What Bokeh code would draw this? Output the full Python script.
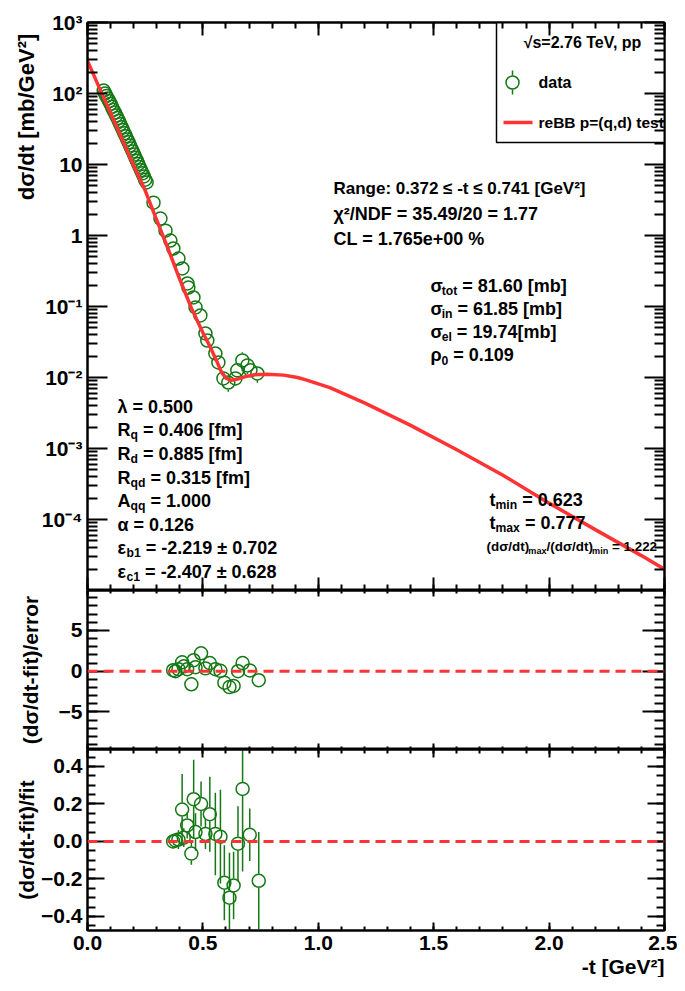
import numpy as np
from bokeh.plotting import figure
from bokeh.layouts import column
from bokeh.models import Range1d, FixedTicker, LinearAxis, LogAxis, Span, Title
from bokeh.core.properties import value
from bokeh.embed import file_html
from bokeh.resources import INLINE

# ---------------- data ----------------
data_t = [0.070, 0.076, 0.082, 0.088, 0.094, 0.100, 0.106, 0.112, 0.118, 0.124,
          0.130, 0.136, 0.142, 0.148, 0.154, 0.160, 0.166, 0.172, 0.178, 0.184,
          0.190, 0.196, 0.202, 0.208, 0.214, 0.220, 0.226, 0.232, 0.238, 0.244,
          0.250, 0.256, 0.286, 0.316, 0.338, 0.359, 0.372, 0.394, 0.411, 0.433,
          0.437, 0.459, 0.468, 0.489, 0.511, 0.519, 0.554, 0.567, 0.589, 0.610,
          0.641, 0.649, 0.671, 0.693, 0.706, 0.736]
data_v = [110, 100, 92, 85, 78, 72, 65, 59, 54, 49,
          45, 41, 37, 33.5, 30.5, 27.5, 25, 22.5, 20.5, 18.5,
          16.8, 15.2, 13.8, 12.4, 11.3, 10.2, 9.2, 8.3, 7.5, 6.8,
          6.1, 5.6, 2.9, 1.73, 1.17, 0.85, 0.656, 0.474, 0.343, 0.211,
          0.185, 0.134, 0.097, 0.0747, 0.0417, 0.0332, 0.0218, 0.0163, 0.0097, 0.0085,
          0.0097, 0.0126, 0.0174, 0.0148, 0.0126, 0.0114]
data_relerr = [0.03] * 32 + [0.05, 0.05, 0.05, 0.06, 0.06, 0.06, 0.07, 0.07,
                             0.08, 0.09, 0.10, 0.12, 0.15, 0.15, 0.20, 0.22, 0.24, 0.26,
                             0.22, 0.22, 0.30, 0.25, 0.18, 0.26]

fit_t = [0.0, 0.05, 0.10, 0.15, 0.20, 0.25, 0.30, 0.35, 0.40, 0.45, 0.50, 0.53,
         0.56, 0.58, 0.60, 0.623, 0.65, 0.68, 0.72, 0.777, 0.85, 0.91, 0.95, 1.05,
         1.20, 1.40, 1.60, 1.80, 2.00, 2.20, 2.40, 2.50]
fit_v = [288, 123, 53, 22.6, 9.7, 4.3, 1.65, 0.64, 0.24, 0.0955, 0.0427, 0.0275,
         0.017, 0.012, 0.0098, 0.0091, 0.0095, 0.0102, 0.0109, 0.01112, 0.0108, 0.0100,
         0.0092, 0.0072, 0.0044, 0.00212, 0.00096, 0.00042, 0.00017, 7.2e-5, 3.1e-5, 2.0e-5]

res_t = [0.371, 0.381, 0.394, 0.410, 0.417, 0.432, 0.450, 0.460, 0.468, 0.492, 0.511,
         0.530, 0.554, 0.576, 0.593, 0.615, 0.633, 0.652, 0.672, 0.703, 0.742]
pull = [0.12, 0.0, 0.25, 1.1, 0.6, 0.25, -1.6, 1.35, 0.5, 2.2, 0.35,
        1.0, 0.25, 0.05, -1.4, -1.95, -1.8, 0.0, 1.0, 0.1, -1.1]
rel_res = [0.0, 0.005, 0.01, 0.17, 0.02, 0.085, -0.065, 0.225, 0.05, 0.20, 0.04,
           0.145, 0.04, 0.025, -0.22, -0.30, -0.235, -0.012, 0.28, 0.035, -0.21]
rel_err = [0.04, 0.04, 0.05, 0.19, 0.05, 0.07, 0.06, 0.21, 0.10, 0.12, 0.08,
           0.20, 0.22, 0.25, 0.20, 0.24, 0.18, 0.20, 0.44, 0.14, 0.26]

x_ticks = [0.0, 0.5, 1.0, 1.5, 2.0, 2.5]
x_labels = ["0.0", "0.5", "1.0", "1.5", "2.0", "2.5"]
y1_ticks = [1e-4, 1e-3, 1e-2, 1e-1, 1.0, 10.0, 100.0, 1000.0]
y1_labels = ["10\u207b\u2074", "10\u207b\u00b3", "10\u207b\u00b2", "10\u207b\u00b9", "1", "10", "10\u00b2", "10\u00b3"]
y2_ticks = [-5.0, 0.0, 5.0]
y2_labels = ["\u22125", "0", "5"]
y3_ticks = [-0.4, -0.2, 0.0, 0.2, 0.4]
y3_labels = ["\u22120.4", "\u22120.2", "0.0", "0.2", "0.4"]

# ---------------- style ----------------
FONT = "Liberation Sans"
GREEN = "#147814"
RED = "#ff3333"
FRAME_W = 577
LEFT = 87
MS = 13  # marker size

def style_axis(ax, major, minor, labels=True):
    ax.major_tick_in = major
    ax.major_tick_out = 0
    ax.minor_tick_in = minor
    ax.minor_tick_out = 0
    ax.major_tick_line_width = 2
    ax.minor_tick_line_width = 2
    ax.axis_line_width = 2
    ax.axis_line_color = "black"
    ax.major_tick_line_color = "black"
    ax.minor_tick_line_color = "black"
    if labels:
        ax.major_label_text_font = FONT
        ax.major_label_text_font_style = "bold"
        ax.major_label_text_font_size = "21px"
        ax.major_label_text_color = "black"
        ax.major_label_standoff = 5
    else:
        ax.major_label_text_font_size = "1px"
        ax.major_label_text_color = None
        ax.major_label_standoff = 0

def make_fig(yr, ytype, fh, btop, bbot):
    p = figure(frame_width=FRAME_W, frame_height=fh, x_range=Range1d(0, 2.5), y_range=yr,
               y_axis_type=ytype, output_backend="svg", toolbar_location=None,
               min_border_left=LEFT, min_border_right=13, min_border_top=btop,
               min_border_bottom=bbot)
    p.grid.visible = False
    p.outline_line_color = "black"
    p.outline_line_width = 2
    p.background_fill_color = "white"
    p.border_fill_color = "white"
    return p

xt = FixedTicker(ticks=x_ticks, minor_ticks=list(np.round(np.arange(0, 2.51, 0.1), 2)))

def add_frame_axes(p, ytick, xmaj, xmin, ymaj, ymin, log=False, xlabels=False):
    p.xaxis.ticker = xt
    style_axis(p.xaxis[0], xmaj, xmin, labels=xlabels)
    if xlabels:
        p.xaxis.major_label_overrides = dict(zip(x_ticks, x_labels))
    p.yaxis.ticker = ytick
    style_axis(p.yaxis[0], ymaj, ymin, labels=True)
    top = LinearAxis(ticker=xt)
    style_axis(top, xmaj, xmin, labels=False)
    p.add_layout(top, "above")
    right = LogAxis(ticker=ytick) if log else LinearAxis(ticker=ytick)
    style_axis(right, ymaj, ymin, labels=False)
    p.add_layout(right, "right")

def ytitle(p, text, standoff, size="22px"):
    ax = p.yaxis[0]
    ax.axis_label = text
    ax.axis_label_text_font = FONT
    ax.axis_label_text_font_style = "bold"
    ax.axis_label_text_font_size = size
    ax.axis_label_text_color = "black"
    ax.axis_label_standoff = standoff

# ---------------- top panel ----------------
p1 = make_fig(Range1d(1e-5, 1e3), "log", 568, 22, 0)
y1_minor = [m * 10.0 ** e for e in range(-5, 3) for m in range(2, 10)]
add_frame_axes(p1, FixedTicker(ticks=y1_ticks, minor_ticks=y1_minor), 13, 6, 20, 10, log=True)
p1.yaxis[0].major_label_overrides = dict(zip(y1_ticks, y1_labels))
# ROOT puts this title at the top end of the axis: pad its start with no-break spaces
ytitle(p1, "\u00a0" * 62 + "d\u03c3/dt [mb/GeV\u00b2]", 0)

def fx(px):
    return (px - 87) / (FRAME_W / 2.5)
def fy(py):
    return 10 ** (3 - (py - 22) / 71.0)

dt = np.array(data_t); dv = np.array(data_v); de = np.array(data_relerr)
g = 10 ** (7.0 / 71.0)
up = (1 + de) > g
lo = (1 - de) < 1 / g
p1.segment(x0=dt[up], y0=(dv * g)[up], x1=dt[up], y1=(dv * (1 + de))[up], line_color=GREEN, line_width=1.5)
p1.segment(x0=dt[lo], y0=(dv / g)[lo], x1=dt[lo], y1=(dv * (1 - de))[lo], line_color=GREEN, line_width=1.5)
p1.scatter(x=data_t, y=data_v, marker="circle", size=MS, fill_color=None, line_color=GREEN, line_width=1.5)
p1.line(x=fit_t, y=fit_v, line_color=RED, line_width=3.5)

# legend box
p1.quad(left=[fx(496)], right=[2.6], top=[fy(19)], bottom=[fy(142)], fill_color="white",
        line_color="black", line_width=1.5)
TXT = dict(text_font=value(FONT), text_font_style="bold", text_color="black", text_baseline="middle")
p1.text(x=[fx(582)], y=[fy(42)], text=["\u221as=2.76 TeV, pp"], text_align="center", text_font_size="16px", **TXT)
p1.segment(x0=[fx(512)], y0=[fy(70)], x1=[fx(512)], y1=[fy(75)], line_color=GREEN, line_width=1.5)
p1.segment(x0=[fx(512)], y0=[fy(89)], x1=[fx(512)], y1=[fy(94)], line_color=GREEN, line_width=1.5)
p1.scatter(x=[fx(512)], y=[fy(82)], marker="circle", size=MS, fill_color=None, line_color=GREEN, line_width=1.5)
p1.text(x=[fx(538)], y=[fy(82)], text=["data"], text_align="left", text_font_size="16px", **TXT)
p1.segment(x0=[fx(503)], y0=[fy(122)], x1=[fx(532)], y1=[fy(122)], line_color=RED, line_width=3.5)
p1.text(x=[fx(538)], y=[fy(122)], text=["reBB p=(q,d) test"], text_align="left", text_font_size="15.5px", **TXT)

# rich texts with subscripts
W = {' ': .278, '(': .333, ')': .333, '+': .584, ',': .278, '-': .333, '.': .278, '/': .278,
     ':': .333, '=': .584, '%': .889, '[': .333, ']': .333, 'A': .722, 'C': .722, 'D': .722,
     'F': .611, 'G': .778, 'L': .611, 'N': .722, 'R': .722, 'V': .667, 'a': .556, 'b': .611,
     'c': .556, 'd': .611, 'e': .556, 'g': .611, 'i': .278, 'l': .278, 'm': .889, 'n': .611,
     'o': .611, 'q': .611, 't': .333, 'x': .556, '\u03c3': .62, '\u03c1': .61, '\u03b5': .50,
     '\u00b1': .584}
def tw(s, fs):
    return sum(W.get(c, 0.556) for c in s) * fs

def rich(x, y, parts, FS=18.0):
    off = 0.0
    for txt, kind in parts:
        if kind == "sub":
            fs = FS * 0.68; dy = FS * 0.33
        else:
            fs = FS; dy = 0
        lead = len(txt) - len(txt.lstrip(" "))
        off += lead * W[' '] * fs
        t = txt.lstrip(" ")
        p1.text(x=[fx(x)], y=[fy(y)], text=[t], x_offset=off, y_offset=dy, text_align="left",
                text_font_size=f"{fs:.1f}px", **TXT)
        off += tw(t, fs)

rich(333, 188, [("Range: 0.372 \u2264 -t \u2264 0.741 [GeV\u00b2]", "n")], 17.0)
rich(333, 213, [("\u03c7\u00b2/NDF = 35.49/20 = 1.77", "n")])
rich(333, 238, [("CL = 1.765e+00 %", "n")])
rich(430, 285, [("\u03c3", "n"), ("tot", "sub"), (" = 81.60 [mb]", "n")])
rich(430, 308, [("\u03c3", "n"), ("in", "sub"), (" = 61.85 [mb]", "n")])
rich(430, 331, [("\u03c3", "n"), ("el", "sub"), (" = 19.74[mb]", "n")])
rich(430, 354, [("\u03c1", "n"), ("0", "sub"), (" = 0.109", "n")])
rich(117, 406, [("\u03bb = 0.500", "n")])
rich(117, 429, [("R", "n"), ("q", "sub"), (" = 0.406 [fm]", "n")])
rich(117, 453, [("R", "n"), ("d", "sub"), (" = 0.885 [fm]", "n")])
rich(117, 477, [("R", "n"), ("qd", "sub"), (" = 0.315 [fm]", "n")])
rich(117, 500, [("A", "n"), ("qq", "sub"), (" = 1.000", "n")])
rich(117, 524, [("\u03b1 = 0.126", "n")])
rich(117, 547, [("\u03b5", "n"), ("b1", "sub"), (" = -2.219 \u00b1 0.702", "n")])
rich(117, 571, [("\u03b5", "n"), ("c1", "sub"), (" = -2.407 \u00b1 0.628", "n")])
rich(489, 499, [("t", "n"), ("min", "sub"), (" = 0.623", "n")])
rich(489, 522, [("t", "n"), ("max", "sub"), (" = 0.777", "n")])
rich(486, 546, [("(d\u03c3/dt)", "n"), ("max", "sub"), ("/(d\u03c3/dt)", "n"), ("min", "sub"), (" = 1.222", "n")], 13.4)

# ---------------- middle panel ----------------
p2 = make_fig(Range1d(-9.6, 9.9), "linear", 159, 0, 0)
add_frame_axes(p2, FixedTicker(ticks=y2_ticks, minor_ticks=list(range(-9, 10))), 6, 3, 22, 10)
p2.yaxis[0].major_label_overrides = dict(zip(y2_ticks, y2_labels))
ytitle(p2, "(d\u03c3/dt-fit)/error", 14, "21px")
p2.add_layout(Span(location=0, dimension="width", line_color=RED, line_width=3, line_dash="10 6"))
p2.scatter(x=res_t, y=pull, marker="circle", size=MS, fill_color=None, line_color=GREEN, line_width=1.5)

# ---------------- bottom panel ----------------
p3 = make_fig(Range1d(-0.475, 0.49), "linear", 181, 0, 0)
add_frame_axes(p3, FixedTicker(ticks=y3_ticks, minor_ticks=list(np.round(np.arange(-0.45, 0.46, 0.05), 2))),
               8, 4, 17, 8, xlabels=True)
p3.yaxis[0].major_label_overrides = dict(zip(y3_ticks, y3_labels))
ytitle(p3, "(d\u03c3/dt-fit)/fit", 0, "21px")
p3.add_layout(Title(text="-t [GeV\u00b2]", align="right", text_font=FONT, text_font_style="bold",
                    text_font_size="21px", text_color="black", standoff=0), "below")
p3.add_layout(Span(location=0, dimension="width", line_color=RED, line_width=3, line_dash="10 6"))
rt = np.array(res_t); rr = np.array(rel_res); re_ = np.array(rel_err)
gap = 7.0 / (181 / (0.49 + 0.475))
m = re_ > gap
p3.segment(x0=rt[m], y0=(rr + gap)[m], x1=rt[m], y1=(rr + re_)[m], line_color=GREEN, line_width=1.5)
p3.segment(x0=rt[m], y0=(rr - gap)[m], x1=rt[m], y1=(rr - re_)[m], line_color=GREEN, line_width=1.5)
p3.scatter(x=res_t, y=rel_res, marker="circle", size=MS, fill_color=None, line_color=GREEN, line_width=1.5)

layout = column(p1, p2, p3, spacing=0)
open("out.html", "w").write(file_html(layout, INLINE))
